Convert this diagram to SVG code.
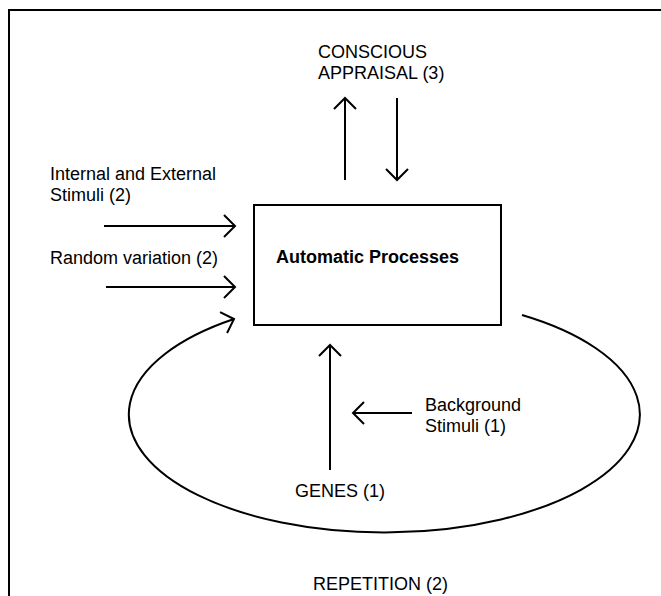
<svg xmlns="http://www.w3.org/2000/svg" width="661" height="596" viewBox="0 0 661 596">
<defs>
<style>
text{font-family:"Liberation Sans",Arial,sans-serif;font-size:18px;fill:#000}
.b{font-weight:bold}
.ln{fill:none;stroke:#000;stroke-width:2}
</style>
<marker id="ah" markerUnits="userSpaceOnUse" viewBox="-14 -13 16 26" refX="0" refY="0" markerWidth="16" markerHeight="26" orient="auto" overflow="visible">
<path d="M-11,-11 L0,0 L-11,11" fill="none" stroke="#000" stroke-width="2"/>
</marker>
</defs>
<rect width="661" height="596" fill="#fff"/>
<g id="frame"><path class="ln" d="M9,596 V10 H661"/></g>
<g id="conscious"><text x="318" y="58">CONSCIOUS</text><text x="318" y="79">APPRAISAL (3)</text></g>
<g id="internal"><text x="50" y="180">Internal and External</text><text x="50" y="201">Stimuli (2)</text></g>
<g id="random"><text x="50" y="264">Random variation (2)</text></g>
<g id="automatic"><rect class="ln" x="254" y="205" width="247" height="120"/><text class="b" x="276" y="263">Automatic Processes</text></g>
<g id="background"><text x="425" y="411">Background</text><text x="425" y="432">Stimuli (1)</text></g>
<g id="genes"><text x="295" y="497">GENES (1)</text></g>
<g id="repetition"><text x="313" y="590">REPETITION (2)</text></g>
<g id="connectors">
<path class="ln" d="M345,180 V98" marker-end="url(#ah)"/>
<path class="ln" d="M397,98 V180" marker-end="url(#ah)"/>
<path class="ln" d="M104,226 H235" marker-end="url(#ah)"/>
<path class="ln" d="M106,287 H235" marker-end="url(#ah)"/>
<path class="ln" d="M522,315 A255.5,118 0 1 1 234,319" marker-end="url(#ah)"/>
<path class="ln" d="M330,470 V345" marker-end="url(#ah)"/>
<path class="ln" d="M412,413 H353" marker-end="url(#ah)"/>
</g>
</svg>
